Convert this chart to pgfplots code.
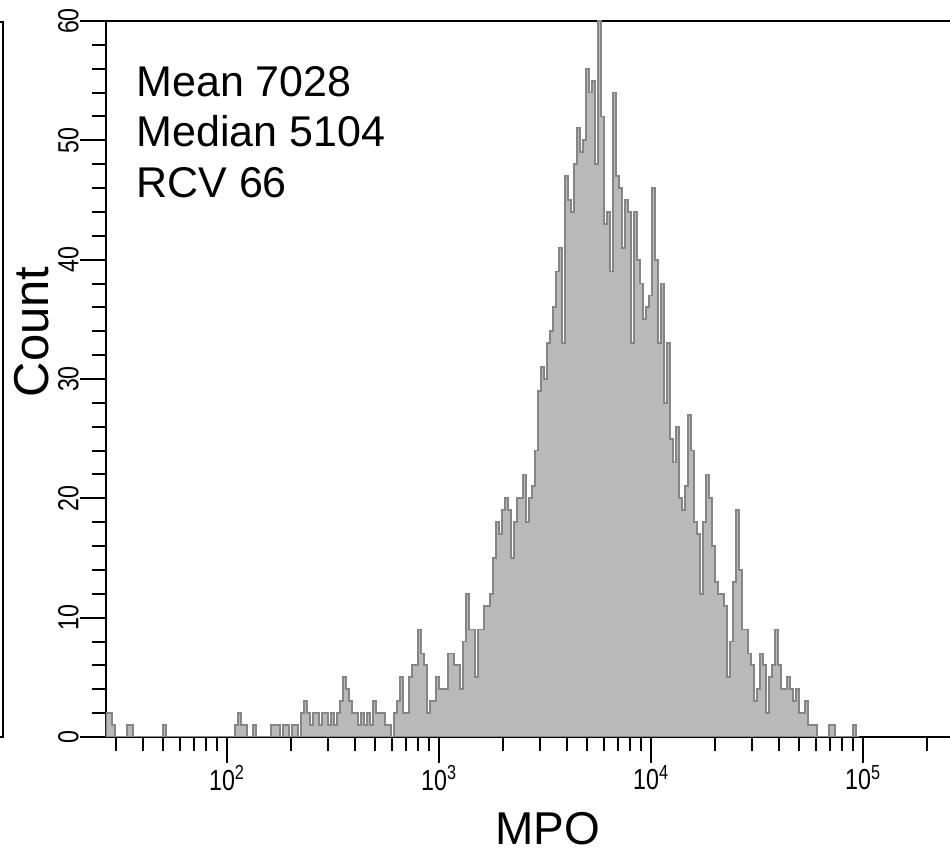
\documentclass[border=0pt]{standalone}
\usepackage{graphicx}
\usepackage{fontspec}
\setmainfont{Liberation Sans}
\usepackage{pgfplots}
\usepackage{pgfplotstable}
\pgfplotsset{compat=1.18}
\definecolor{histfill}{HTML}{B9B9B9}
\definecolor{histline}{HTML}{858585}
\pgfplotstableread{
c
2
2
1
0
0
0
0
1
1
0
0
0
0
0
0
0
0
0
0
1
0
0
0
0
0
0
0
0
0
0
0
0
0
0
0
0
0
0
0
0
0
0
0
1
2
1
1
0
0
1
0
0
0
0
0
1
1
1
0
1
1
0
1
1
0
2
3
2
1
2
2
1
2
2
1
2
1
2
3
5
4
3
2
2
1
2
1
2
1
3
2
2
2
1
1
0
2
3
5
2
2
5
6
6
9
7
6
2
3
3
5
4
4
4
7
7
6
6
4
8
12
9
9
5
9
9
11
11
12
15
18
17
19
20
19
15
18
20
20
22
18
20
21
24
29
31
30
33
34
36
39
41
33
47
45
44
48
51
49
50
56
54
55
48
60
52
43
44
39
54
47
46
41
45
44
33
44
40
38
35
36
37
46
40
33
38
28
33
25
23
26
20
19
21
27
24
18
17
12
18
22
20
16
13
12
12
11
5
8
13
19
14
9
9
7
6
3
4
7
6
2
5
6
9
6
4
4
5
4
3
4
2
2
3
1
1
1
0
0
0
0
1
1
0
0
0
0
0
0
1
0
0
}\hist
\begin{document}
\begin{tikzpicture}
\useasboundingbox (-53pt,-57.5pt) rectangle (422pt,368.5pt);
\begin{axis}[
  scale only axis,
  width=426pt, height=358pt,
  xmin=1.4292, xmax=5.448,
  ymin=0, ymax=60,
  axis line style={line width=1.2pt},
  tick pos=left,
  tick align=outside,
  major tick length=13pt,
  minor tick length=7pt,
  every tick/.style={black, line width=1pt},
  ytick={0,10,...,60},
  minor y tick num=4,
  xtick={2,3,4,5},
  minor xtick={1.4771,1.6021,1.6990,1.7782,1.8451,1.9031,1.9542,
    2.3010,2.4771,2.6021,2.6990,2.7782,2.8451,2.9031,2.9542,
    3.3010,3.4771,3.6021,3.6990,3.7782,3.8451,3.9031,3.9542,
    4.3010,4.4771,4.6021,4.6990,4.7782,4.8451,4.9031,4.9542,
    5.3010},
  xticklabels={\scalebox{0.8}[1]{10\textsuperscript{2}},\scalebox{0.8}[1]{10\textsuperscript{3}},\scalebox{0.8}[1]{10\textsuperscript{4}},\scalebox{0.8}[1]{10\textsuperscript{5}}},
  /pgf/number format/assume math mode=true,
  yticklabel={\scalebox{0.8}[1]{\pgfmathprintnumber{\tick}}},
  yticklabel style={rotate=90, anchor=south, inner sep=0.5pt, font=\fontsize{14.5}{14.5}\selectfont},
  xticklabel style={anchor=north, inner sep=1pt, font=\fontsize{14.5}{14.5}\selectfont},
  clip=true,
]
\addplot[const plot, fill=histfill, draw=histline, line width=0.9pt]
  table[x expr={1.4292+0.014151*\coordindex}, y=c] {\hist} \closedcycle;
\node[anchor=base west, inner sep=0pt, font=\fontsize{21.5}{21.5}\selectfont] at (rel axis cs:0,1) [xshift=15pt, yshift=-38pt] {Mean 7028};
\node[anchor=base west, inner sep=0pt, font=\fontsize{21.5}{21.5}\selectfont] at (rel axis cs:0,1) [xshift=15pt, yshift=-63pt] {Median 5104};
\node[anchor=base west, inner sep=0pt, font=\fontsize{21.5}{21.5}\selectfont] at (rel axis cs:0,1) [xshift=15pt, yshift=-88pt] {RCV 66};
\end{axis}
\node[rotate=90, anchor=center, font=\fontsize{24.5}{24.5}\selectfont] at (-37pt,202.5pt) {Count};
\node[anchor=base, font=\fontsize{23}{23}\selectfont] at (221pt,-54pt) {MPO};
\draw[line width=1pt] (-56pt,357.5pt) -- (-51.5pt,357.5pt) -- (-51.5pt,0pt) -- (-56pt,0pt);
\end{tikzpicture}
\end{document}
